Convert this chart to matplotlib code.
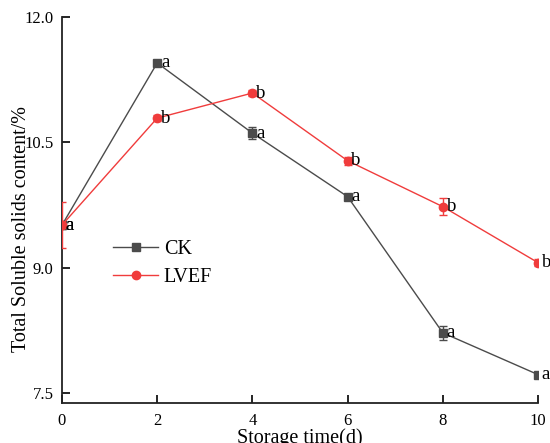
import matplotlib
matplotlib.use("Agg")
import matplotlib.pyplot as plt

plt.rcParams['font.family'] = ['Liberation Serif', 'DejaVu Serif']

# storage days
days = [0, 2, 4, 6, 8, 10]

# CK series
ck_mean = [9.51, 11.45, 10.61, 9.85, 8.22, 7.72]
ck_err = [0.05, 0.04, 0.07, 0.03, 0.08, 0.02]
ck_sig = ['a', 'a', 'a', 'a', 'a', 'a']

# LVEF series
lvef_mean = [9.51, 10.79, 11.09, 10.28, 9.73, 9.06]
lvef_err = [0.28, 0.04, 0.04, 0.05, 0.10, 0.04]
lvef_sig = ['a', 'b', 'b', 'b', 'b', 'b']

ck_color = '#4b4b4b'
lvef_color = '#f03c3c'

fig = plt.figure(figsize=(5.5, 4.43), dpi=100)
ax = fig.add_axes([62 / 550, 1 - 403 / 443, 476 / 550, 386 / 443])

ax.errorbar(days, ck_mean, yerr=ck_err, color=ck_color, marker='s', markersize=5.5,
            linewidth=1, capsize=3, elinewidth=1, label='CK', zorder=3)
ax.errorbar(days, lvef_mean, yerr=lvef_err, color=lvef_color, marker='o', markersize=6,
            linewidth=1, capsize=3, elinewidth=1, label='LVEF', zorder=4)

# significance letters right of each point
for x, y, s in zip(days, ck_mean, ck_sig):
    ax.text(x + 0.08, y, s, fontsize=13.5, va='center', ha='left', zorder=5)
for x, y, s in zip(days, lvef_mean, lvef_sig):
    ax.text(x + 0.08, y, s, fontsize=13.5, va='center', ha='left', zorder=5)

ax.set_xlim(0, 10)
ax.set_ylim(7.38, 12.0)
ax.set_xticks([0, 2, 4, 6, 8, 10])
ax.set_yticks([7.5, 9.0, 10.5, 12.0])
ax.set_yticklabels(['7.5', '9.0', '10.5', '12.0'])
ax.tick_params(direction='in', length=6, width=1.2, labelsize=12)
ax.tick_params(axis='x', pad=7)
ax.tick_params(axis='y', pad=6)
ax.spines['top'].set_visible(False)
ax.spines['right'].set_visible(False)
for side in ['left', 'bottom']:
    ax.spines[side].set_linewidth(1.3)
    ax.spines[side].set_color('#222222')

ax.set_xlabel('Storage time(d)', fontsize=14.5, labelpad=0)
fig.text(22 / 550, 1 - 229 / 443, 'Total Soluble solids content/%', rotation=90,
         fontsize=14.5, ha='center', va='center')

handles, labels = ax.get_legend_handles_labels()
handles = [h[0] for h in handles]
ax.legend(handles, labels, loc='upper left', bbox_to_anchor=(0.07, 0.47),
          frameon=False, fontsize=14.5, handlelength=2.2, handletextpad=0.3,
          labelspacing=0.45)

fig.savefig('out.png', dpi=100)
